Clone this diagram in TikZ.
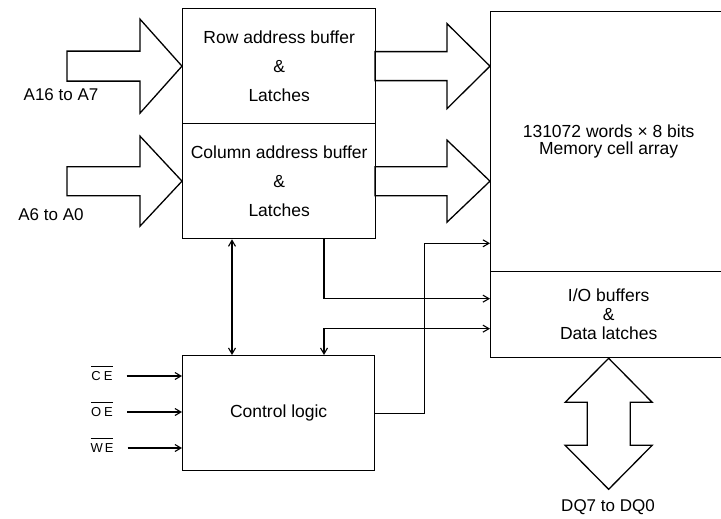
\documentclass[tikz,border=0pt]{standalone}
\usepackage{fontspec}
\setmainfont{Liberation Sans}
\usetikzlibrary{calc,arrows.meta}
\newcommand\blkarrow[5]{% tip, shaft length, head length, head half-height, shaft half-height
  \draw[blk] (#1) -- ++(-#3,-#4) -- ++(0,{#4-#5}) -- ++(-#2,0) -- ++(0,{2*#5}) -- ++(#2,0) -- ++(0,{#4-#5}) -- cycle;}
\newcommand\barsig[1]{\vbox{\hrule height 1.3pt\vskip 4.5pt\hbox{#1}}}
\begin{document}
\begin{tikzpicture}[x=1pt,y=-1pt,
  box/.style={draw, line width=1.3pt, inner sep=0pt, anchor=north west, align=center,
              font=\fontsize{17.5}{29}\selectfont},
  lbl/.style={font=\fontsize{17}{20}\selectfont, inner sep=0pt},
  sig/.style={font=\fontsize{13}{14}\selectfont, inner sep=0pt},
  arr/.style={line width=1.1pt, -{Straight Barb[length=6pt,width=7pt]}},
  barr/.style={line width=1.1pt, {Straight Barb[length=6pt,width=7pt]}-{Straight Barb[length=6pt,width=7pt]}},
  blk/.style={line width=1.3pt, line join=miter}]
\useasboundingbox (0,0) rectangle (721,519);

% blocks
\node[box, minimum width=193pt, minimum height=115pt] (row) at (182,8) {Row address buffer\\\&\\Latches};
\node[box, minimum width=193pt, minimum height=115pt] (col) at (182,123) {Column address buffer\\\&\\Latches};
\node[box, minimum width=236pt, minimum height=260pt, font=\fontsize{17.5}{17}\selectfont] (mem) at (490,11) {131072 words × 8 bits\\Memory cell array};
\node[box, minimum width=236pt, minimum height=86pt, font=\fontsize{17.5}{19}\selectfont] (io) at (490,271) {I/O buffers\\\&\\Data latches};
\node[box, minimum width=192pt, minimum height=115pt] (ctrl) at (182,355) {Control logic};

% labels
\node[lbl] (a16) at (61,95) {A16 to A7};
\node[lbl] (a6) at (51,215) {A6 to A0};
\node[lbl] (dq) at (608,507) {DQ7 to DQ0};
\node[sig] (ce) at (102,373) {\barsig{C\hspace{3pt}E}};
\node[sig] (oe) at (102,409) {\barsig{O\hspace{3pt}E}};
\node[sig] (we) at (102,445) {\barsig{W\hspace{2pt}E}};

% block arrows
\blkarrow{row.west}{73}{42}{47}{15}
\blkarrow{col.west}{73}{42}{45}{14.5}
\blkarrow{mem.west |- row.east}{72}{43}{42.5}{14.5}
\blkarrow{mem.west |- col.east}{72}{43}{41}{14.5}
\draw[blk] (io.south) -- ++(43.5,44) -- ++(-22,0) -- ++(0,43) -- ++(22,0) -- ++(-43.5,44)
  -- ++(-43.5,-44) -- ++(22,0) -- ++(0,-43) -- ++(-22,0) -- cycle;

% control signals
\draw[arr] ($(ce.east)+(14,3)$) -- ($(ce.east -| ctrl.west)+(0,3)$);
\draw[arr] ($(oe.east)+(14,3)$) -- ($(oe.east -| ctrl.west)+(0,3)$);
\draw[arr] ($(we.east)+(14,3)$) -- ($(we.east -| ctrl.west)+(0,3)$);

% connectors
\draw[barr] ($(col.south west)+(50,0)$) -- ($(ctrl.north west)+(50,0)$);
\draw[arr] ($(col.south west)+(142,0)$) |- ($(io.west)+(0,-16)$);
\draw[barr] ($(ctrl.north west)+(142,0)$) |- ($(io.west)+(0,14)$);
\draw[arr] (ctrl.east) -- ++(49,0) |- ($(mem.south west)+(0,-29)$);
\end{tikzpicture}
\end{document}
